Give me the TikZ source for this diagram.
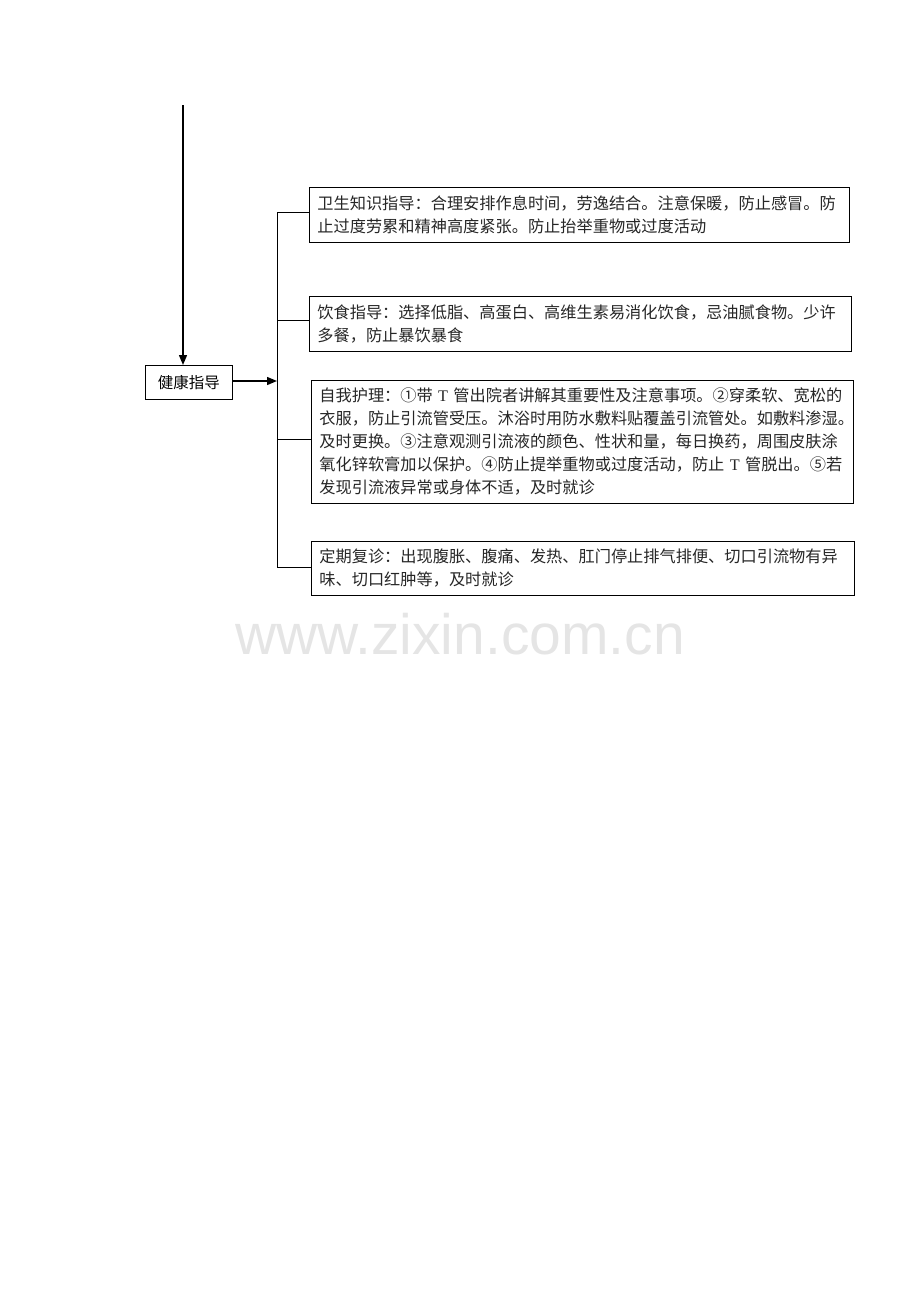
\documentclass[tikz,border=0pt]{standalone}
\usepackage{fontspec}
\setmainfont{Liberation Serif}
\newfontfamily\cjk{Noto Sans CJK SC}
\newfontfamily\wmfont{Liberation Sans}
\usetikzlibrary{arrows.meta}
\begin{document}
\begin{tikzpicture}[x=1pt,y=-1pt,
  txtbox/.style={draw, line width=0.8pt, anchor=north west, inner xsep=7pt, inner ysep=0pt,
    align=left, font=\cjk\fontsize{16.2}{23}\selectfont, text=black!85},
  conn/.style={line width=0.9pt},
  arr/.style={line width=1.4pt, -{Triangle[length=10pt,width=8pt]}}]
\useasboundingbox (0,0) rectangle (920,1302);
\coordinate (top) at (183,105);
\node[draw, line width=0.8pt, anchor=north west, minimum width=87pt, minimum height=34pt,
  inner sep=0pt, font=\cjk\fontsize{15.5}{18}\selectfont] (hg) at (145,365) {健康指导};
\draw[arr] (top) -- (hg.north -| top);
\coordinate (t1) at (277,212);
\coordinate (t2) at (277,320);
\coordinate (t3) at (277,439);
\coordinate (t4) at (277,567);
\coordinate (tm) at (277,381);
\draw[arr] (hg.east |- tm) -- (tm);
\draw[conn] (t1) -- (t4);
\node[txtbox, minimum width=540pt, minimum height=55pt, text width=524pt] (b1) at (309,187)
  {卫生知识指导：合理安排作息时间，劳逸结合。注意保暖，防止感冒。防\\止过度劳累和精神高度紧张。防止抬举重物或过度活动};
\node[txtbox, minimum width=542pt, minimum height=55pt, text width=526pt] (b2) at (309,296)
  {饮食指导：选择低脂、高蛋白、高维生素易消化饮食，忌油腻食物。少许\\多餐，防止暴饮暴食};
\node[txtbox, minimum width=542pt, minimum height=123pt, text width=526pt] (b3) at (311,380)
  {自我护理：①带~{\rmfamily T}~管出院者讲解其重要性及注意事项。②穿柔软、宽松的\\衣服，防止引流管受压。沐浴时用防水敷料贴覆盖引流管处。如敷料渗湿。\\及时更换。③注意观测引流液的颜色、性状和量，每日换药，周围皮肤涂\\氧化锌软膏加以保护。④防止提举重物或过度活动，防止~{\rmfamily T}~管脱出。⑤若\\发现引流液异常或身体不适，及时就诊};
\node[txtbox, minimum width=543pt, minimum height=54pt, text width=527pt] (b4) at (311,541)
  {定期复诊：出现腹胀、腹痛、发热、肛门停止排气排便、切口引流物有异\\味、切口红肿等，及时就诊};
\draw[conn] (t1) -- (b1.west |- t1);
\draw[conn] (t2) -- (b2.west |- t2);
\draw[conn] (t3) -- (b3.west |- t3);
\draw[conn] (t4) -- (b4.west |- t4);
\node[font=\wmfont\fontsize{57}{60}\selectfont, text=black!10] (wm) at (460,634) {www.zixin.com.cn};
\end{tikzpicture}
\end{document}
